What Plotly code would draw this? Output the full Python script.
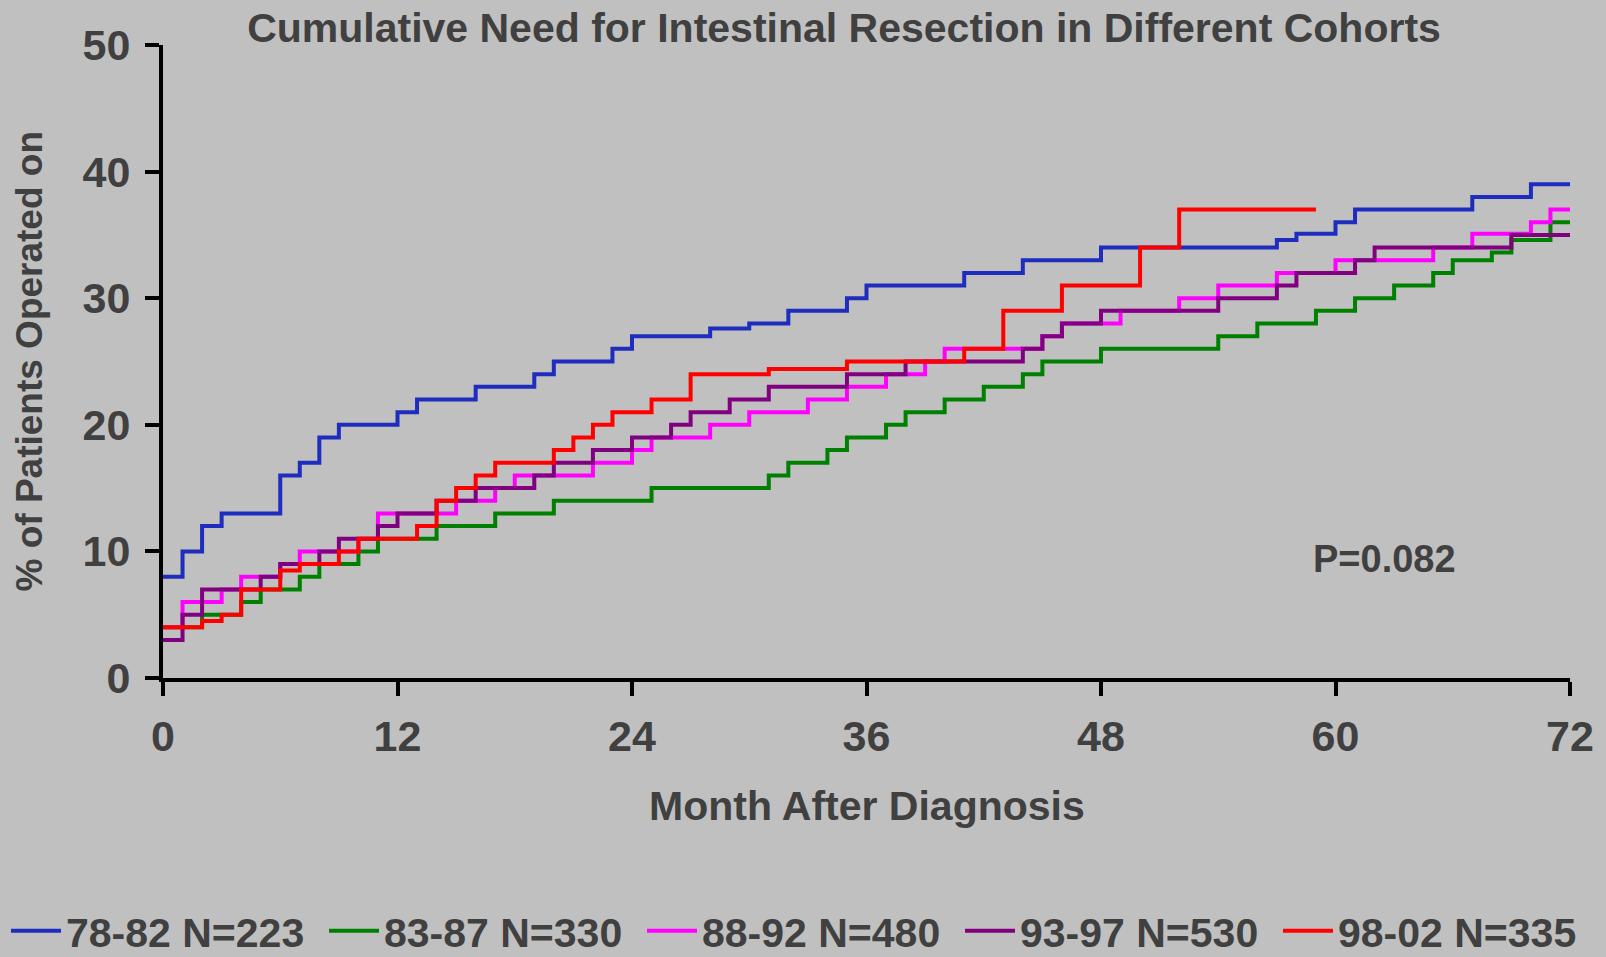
import plotly.graph_objects as go

# ---- data ----
months_7882 = [0, 1, 2, 3, 6, 7, 8, 9, 12, 13, 16, 19, 20, 23, 24, 28, 30, 32, 35, 36, 41, 44, 48, 57, 58, 60, 61, 67, 70, 72]
pct_7882 = [8, 10, 12, 13, 16, 17, 19, 20, 21, 22, 23, 24, 25, 26, 27, 27.6, 28, 29, 30, 31, 32, 33, 34, 34.6, 35.1, 36, 37, 38, 39, 39]

months_8387 = [0, 2, 4, 5, 7, 8, 10, 11, 14, 17, 20, 25, 31, 32, 34, 35, 37, 38, 40, 42, 44, 45, 48, 54, 56, 59, 61, 63, 65, 66, 68, 69, 71, 72]
pct_8387 = [4, 5, 6, 7, 8, 9, 10, 11, 12, 13, 14, 15, 16, 17, 18, 19, 20, 21, 22, 23, 24, 25, 26, 27, 28, 29, 30, 31, 32, 33, 33.6, 34.6, 36, 36]

months_8892 = [0, 1, 3, 4, 6, 7, 10, 11, 15, 17, 18, 22, 24, 25, 28, 30, 33, 35, 37, 39, 40, 45, 46, 49, 52, 54, 57, 60, 65, 67, 70, 71, 72]
pct_8892 = [4, 6, 7, 8, 9, 10, 11, 13, 14, 15, 16, 17, 18, 19, 20, 21, 22, 23, 24, 25, 26, 27, 28, 29, 30, 31, 32, 33, 34, 35.1, 36, 37, 37]

months_9397 = [0, 1, 2, 5, 6, 8, 9, 11, 12, 14, 16, 19, 20, 22, 24, 26, 27, 29, 31, 35, 38, 44, 45, 46, 48, 54, 57, 58, 61, 62, 69, 72]
pct_9397 = [3, 5, 7, 8, 9, 10, 11, 12, 13, 14, 15, 16, 17, 18, 19, 20, 21, 22, 23, 24, 25, 26, 27, 28, 29, 30, 31, 32, 33, 34, 35, 35]

months_9802 = [0, 2, 3, 4, 6, 7, 9, 10, 13, 14, 15, 16, 17, 20, 21, 22, 23, 25, 27, 31, 35, 41, 43, 46, 50, 52, 59]
pct_9802 = [4, 4.5, 5, 7, 8.5, 9, 10, 11, 12, 14, 15, 16, 17, 18, 19, 20, 21, 22, 24, 24.4, 25, 26, 29, 31, 34, 37, 37]

cohort_names = ["78-82 N=223", "83-87 N=330", "88-92 N=480", "93-97 N=530", "98-02 N=335"]
cohort_colors = ["#1E2DBE", "#008000", "#FF00FF", "#800080", "#FF0000"]
x_ticks = [0, 12, 24, 36, 48, 60, 72]
y_ticks = [0, 10, 20, 30, 40, 50]

title_text = "Cumulative Need for Intestinal Resection in Different Cohorts"
x_title = "Month After Diagnosis"
y_title = "% of Patients Operated on"
p_text = "P=0.082"

FONT = "Liberation Sans, Arial, sans-serif"
TXT = "#404040"
BG = "#C0C0C0"

series = list(zip(cohort_names,
                  [months_7882, months_8387, months_8892, months_9397, months_9802],
                  [pct_7882, pct_8387, pct_8892, pct_9397, pct_9802],
                  cohort_colors))

fig = go.Figure()
for i, (name, t, v, c) in enumerate(series):
    # the horizontal legend row is wider than the plot area, so the last
    # entry is placed in a second legend continuing the same row
    fig.add_trace(go.Scatter(x=t, y=v, mode="lines", name=name,
                             legend="legend2" if i == len(series) - 1 else "legend",
                             line=dict(shape="hv", color=c, width=4)))

axis_common = dict(showline=True, linewidth=4, linecolor="black", ticks="outside",
                   ticklen=14, tickwidth=4, tickcolor="black", showgrid=False,
                   zeroline=False,
                   tickfont=dict(family=FONT, size=43, color=TXT, weight="bold"))

legend_common = dict(orientation="h", xref="container", yref="container",
                     y=1 - 931 / 957, xanchor="left", yanchor="middle",
                     font=dict(family=FONT, size=41, color=TXT, weight="bold"),
                     itemwidth=50, entrywidth=253, bgcolor="rgba(0,0,0,0)")

LEG_X0 = 6  # px from the left edge
ITEM_STEP = 318  # px between legend entries

fig.update_layout(
    width=1606, height=957,
    margin=dict(l=163, r=36, t=45, b=279),
    paper_bgcolor=BG, plot_bgcolor=BG,
    font=dict(family=FONT, color=TXT),
    title=dict(text=title_text, x=844 / 1606, xref="container", xanchor="center",
               y=1 - 28 / 957, yref="container", yanchor="middle",
               font=dict(family=FONT, size=41, color=TXT, weight="bold")),
    xaxis=dict(range=[0, 72], tickvals=x_ticks, ticklabelstandoff=3, **axis_common),
    yaxis=dict(range=[0, 50], tickvals=y_ticks, ticklabelstandoff=6, **axis_common),
    legend=dict(x=LEG_X0 / 1606, **legend_common),
    legend2=dict(x=(LEG_X0 + 4 * ITEM_STEP) / 1606, **legend_common),
    showlegend=True,
    annotations=[
        dict(text=x_title, xref="paper", yref="paper", x=0.5, y=(678 - 806) / 633,
             xanchor="center", yanchor="middle", showarrow=False,
             font=dict(family=FONT, size=41, color=TXT, weight="bold")),
        dict(text=y_title, xref="paper", yref="paper", x=(29 - 163) / 1407, y=0.5,
             xanchor="center", yanchor="middle", showarrow=False, textangle=-90,
             font=dict(family=FONT, size=37, color=TXT, weight="bold")),
        dict(text=p_text, xref="x", yref="y", x=62.5, y=9.4,
             xanchor="center", yanchor="middle", showarrow=False,
             font=dict(family=FONT, size=38, color=TXT, weight="bold")),
    ],
)

fig.write_html("out.html")
